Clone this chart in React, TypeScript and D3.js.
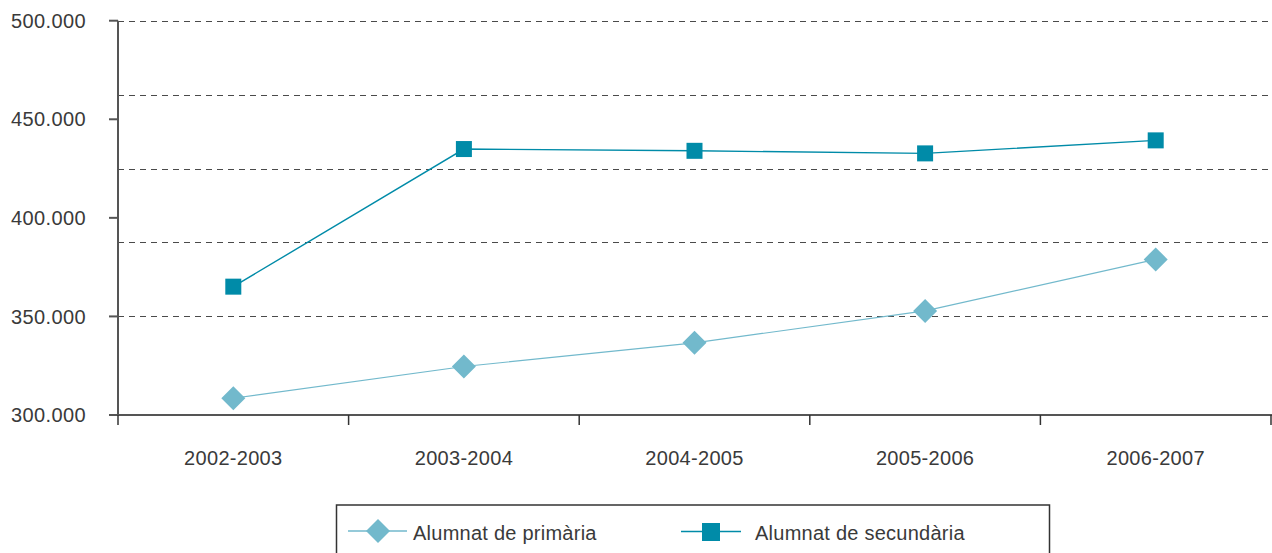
import React from "react";
import * as d3 from "d3";

const categories = ["2002-2003", "2003-2004", "2004-2005", "2005-2006", "2006-2007"];
const primaria = [308500, 324600, 336600, 352800, 378900];
const secundaria = [365100, 434900, 434000, 432700, 439300];
const yTicks = [300000, 350000, 400000, 450000, 500000];
const gridValues = [500000, 462500, 425000, 387500, 350000];
const seriesNames = ["Alumnat de primària", "Alumnat de secundària"];

const W = 1272;
const H = 553;
const left = 118;
const right = 1271;
const top = 20.7;
const bottom = 415;

const FONT = "'Liberation Sans', Arial, Helvetica, sans-serif";
const TEXT = "#3a3a3a";
const C_PRIM = "#72b9cc";
const C_SEC = "#008ba8";

const fmt = (v: number) => d3.format(",")(v).replace(/,/g, ".");

export default function App() {
  const x = d3.scaleBand<string>().domain(categories).range([left, right]).padding(0);
  const y = d3.scaleLinear().domain([300000, 500000]).range([bottom, top]);
  const cx = (c: string) => (x(c) as number) + x.bandwidth() / 2;

  const line = d3
    .line<number>()
    .x((_, i) => cx(categories[i]))
    .y((d) => y(d));

  const diamond = (px: number, py: number, r: number) =>
    `M${px},${py - r}L${px + r},${py}L${px},${py + r}L${px - r},${py}Z`;

  const boundaries = [left, ...categories.map((c) => (x(c) as number) + x.bandwidth())];

  return (
    <svg
      width={W}
      height={H}
      style={{ position: "fixed", left: 0, top: 0, background: "#fff" }}
      fontFamily={FONT}
    >
      {/* grid */}
      {gridValues.map((g) => (
        <line
          key={g}
          x1={left}
          x2={W}
          y1={Math.round(y(g)) + 0.5}
          y2={Math.round(y(g)) + 0.5}
          stroke="#4a4a4a"
          strokeWidth={1}
          strokeDasharray="6,5"
        />
      ))}
      {/* y axis */}
      <line x1={left} x2={left} y1={top} y2={bottom + 1} stroke="#555" strokeWidth={2} />
      {yTicks.map((t) => (
        <g key={t}>
          <line x1={left - 9} x2={left} y1={y(t)} y2={y(t)} stroke="#555" strokeWidth={2} />
          <text
            x={86}
            y={y(t)}
            dy="0.36em"
            textAnchor="end"
            fontSize={20}
            fill={TEXT}
            letterSpacing={0.4}
          >
            {fmt(t)}
          </text>
        </g>
      ))}
      {/* x axis */}
      <line x1={left - 1} x2={right + 1} y1={bottom} y2={bottom} stroke="#555" strokeWidth={2} />
      {boundaries.map((b, i) => (
        <line key={i} x1={b} x2={b} y1={bottom} y2={bottom + 10} stroke="#333" strokeWidth={1.5} />
      ))}
      {categories.map((c) => (
        <text key={c} x={cx(c)} y={465} textAnchor="middle" fontSize={20} fill={TEXT} letterSpacing={0.3}>
          {c}
        </text>
      ))}
      {/* series */}
      <path d={line(primaria) || ""} fill="none" stroke={C_PRIM} strokeWidth={1.2} />
      <path d={line(secundaria) || ""} fill="none" stroke={C_SEC} strokeWidth={1.4} />
      {primaria.map((v, i) => (
        <path key={i} d={diamond(cx(categories[i]), y(v), 12)} fill={C_PRIM} />
      ))}
      {secundaria.map((v, i) => (
        <rect key={i} x={cx(categories[i]) - 8} y={y(v) - 8} width={16} height={16} fill={C_SEC} />
      ))}
      {/* legend */}
      <rect x={336.5} y={505} width={713} height={60} fill="none" stroke="#333" strokeWidth={1.5} />
      <line x1={348} x2={407} y1={531} y2={531} stroke={C_PRIM} strokeWidth={1.5} />
      <path d={diamond(378, 531, 12)} fill={C_PRIM} />
      <text x={413} y={540} fontSize={20} fill={TEXT} letterSpacing={0.25}>
        {seriesNames[0]}
      </text>
      <line x1={681} x2={741} y1={531.5} y2={531.5} stroke={C_SEC} strokeWidth={1.5} />
      <rect x={702} y={523} width={18} height={18} fill={C_SEC} />
      <text x={755} y={540} fontSize={20} fill={TEXT} letterSpacing={0.25}>
        {seriesNames[1]}
      </text>
    </svg>
  );
}
